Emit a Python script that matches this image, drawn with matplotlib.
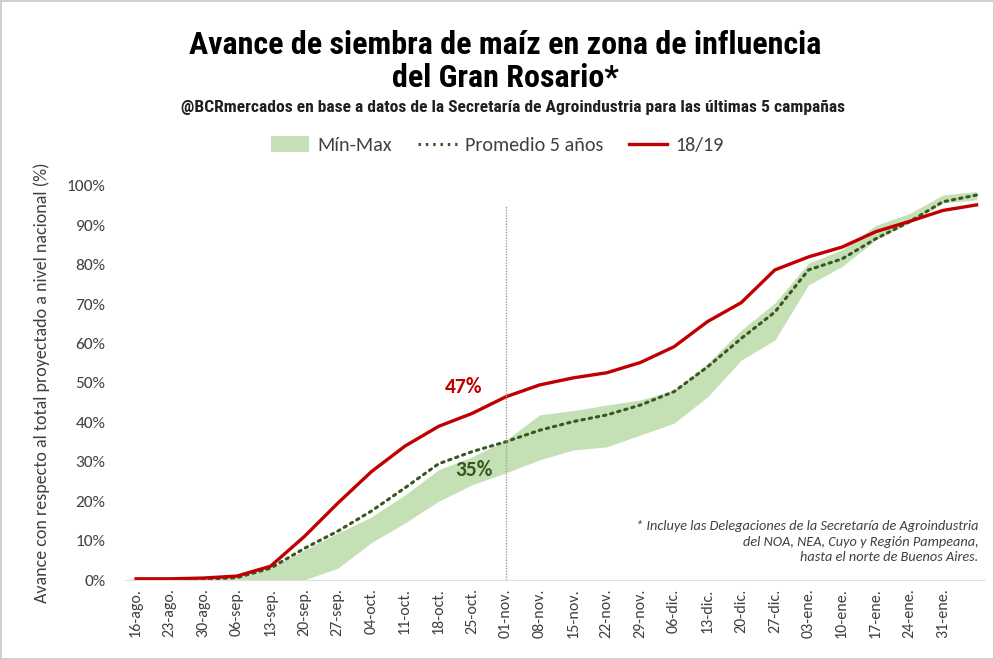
import matplotlib.pyplot as plt
from matplotlib.lines import Line2D
from matplotlib.patches import Patch
from matplotlib.ticker import PercentFormatter

# semanas (la ultima, 07-feb., no lleva etiqueta en el original)
semanas = ['16-ago.', '23-ago.', '30-ago.', '06-sep.', '13-sep.', '20-sep.', '27-sep.',
           '04-oct.', '11-oct.', '18-oct.', '25-oct.', '01-nov.', '08-nov.', '15-nov.',
           '22-nov.', '29-nov.', '06-dic.', '13-dic.', '20-dic.', '27-dic.', '03-ene.',
           '10-ene.', '17-ene.', '24-ene.', '31-ene.']

avance_1819 = [0.3, 0.3, 0.5, 1.0, 3.5, 11.0, 19.5, 27.5, 34.0, 39.0, 42.3, 46.5, 49.5,
               51.3, 52.6, 55.2, 59.2, 65.6, 70.4, 78.7, 82.0, 84.5, 88.4, 91.0, 93.8, 95.2]
promedio_5 = [0.0, 0.0, 0.2, 0.6, 3.0, 8.0, 12.4, 17.5, 23.4, 29.5, 32.6, 35.1, 38.0,
              40.2, 41.9, 44.4, 47.8, 54.1, 61.3, 68.0, 78.7, 81.5, 86.6, 90.9, 96.0, 97.7]
maximo = [0.0, 0.0, 0.2, 0.6, 3.0, 7.6, 11.9, 16.0, 21.6, 28.0, 31.3, 35.5, 41.9,
          43.0, 44.4, 45.7, 48.2, 55.0, 63.4, 70.3, 80.4, 83.8, 90.0, 93.0, 97.7, 98.6]
minimo = [0.0, 0.0, 0.0, 0.0, 0.0, 0.0, 3.0, 9.5, 14.5, 20.0, 24.2, 27.2, 30.5,
          33.0, 33.8, 36.8, 39.8, 46.5, 55.8, 60.9, 74.9, 79.6, 86.3, 90.6, 95.7, 96.5]

ROJO = '#c00000'
VERDE_OSC = '#385723'
VERDE_CLARO = '#c5e0b4'
GRIS = '#404040'
TITULO = ['Roboto Condensed', 'DejaVu Sans']

plt.rcParams['font.family'] = ['Carlito', 'DejaVu Sans']

fig = plt.figure(figsize=(9.95, 6.6), dpi=100)
fig.patch.set_edgecolor('#d0d0d0')
fig.patch.set_linewidth(1.5)
ax = fig.add_axes([0.1256, 0.1212, 0.864, 0.597])

x = list(range(len(avance_1819)))
ax.fill_between(x, minimo, maximo, color=VERDE_CLARO, lw=0)
ax.plot(x, promedio_5, color=VERDE_OSC, lw=2.2, linestyle=(0, (0.8, 1.6)),
        dash_capstyle='round')
ax.plot(x, avance_1819, color=ROJO, lw=2.4)

# linea de referencia en 01-nov.
ax.vlines(11, 0, 95, color='#a0a0a0', lw=1, linestyles=(0, (1, 1)))

ax.text(10.3, 48.9, '47%', color=ROJO, fontsize=15.5, fontweight='bold', ha='right', va='center')
ax.text(10.6, 28.0, '35%', color=VERDE_OSC, fontsize=15.5, fontweight='bold', ha='right', va='center')

ax.text(25.05, 15.2, '* Incluye las Delegaciones de la Secretaría de Agroindustria\n'
        'del NOA, NEA, Cuyo y Región Pampeana,\nhasta el norte de Buenos Aires.',
        fontsize=10.3, style='italic', color=GRIS, ha='right', va='top', linespacing=1.35)

ax.set_xlim(-0.33, 25.24)
ax.set_ylim(0, 100)
ax.set_yticks(range(0, 101, 10))
ax.yaxis.set_major_formatter(PercentFormatter(decimals=0))
ax.set_xticks(range(len(semanas)))
ax.set_xticklabels(semanas, rotation=90, fontsize=11.5, color=GRIS)
ax.tick_params(axis='y', labelsize=12.5, colors=GRIS, length=0, pad=14)
ax.tick_params(axis='x', length=0, pad=6)
for s in ['top', 'right', 'left']:
    ax.spines[s].set_visible(False)
ax.spines['bottom'].set_color('#e0e0e0')
ax.set_ylabel('Avance con respecto al total proyectado a nivel nacional (%)',
              fontsize=13, color=GRIS, labelpad=12)

fig.text(0.508, 0.907, 'Avance de siembra de maíz en zona de influencia\ndel Gran Rosario*',
         ha='center', va='center', fontsize=23, fontweight='bold',
         family=TITULO, linespacing=1.15)
fig.text(0.516, 0.837, '@BCRmercados en base a datos de la Secretaría de Agroindustria '
         'para las últimas 5 campañas', ha='center', va='center', fontsize=12.6,
         fontweight='bold', family=TITULO, color='#202020')

handles = [Patch(facecolor=VERDE_CLARO, edgecolor='none'),
           Line2D([], [], color=VERDE_OSC, lw=2.2, linestyle=(0, (0.8, 1.6))),
           Line2D([], [], color=ROJO, lw=2.4)]
fig.legend(handles, ['Mín-Max', 'Promedio 5 años', '18/19'], loc='center',
           bbox_to_anchor=(0.5, 0.78), ncol=3, frameon=False, fontsize=14.5,
           handlelength=1.9, handleheight=0.8, columnspacing=1.3, handletextpad=0.4,
           labelcolor=GRIS)

fig.savefig('out.png', dpi=100)
